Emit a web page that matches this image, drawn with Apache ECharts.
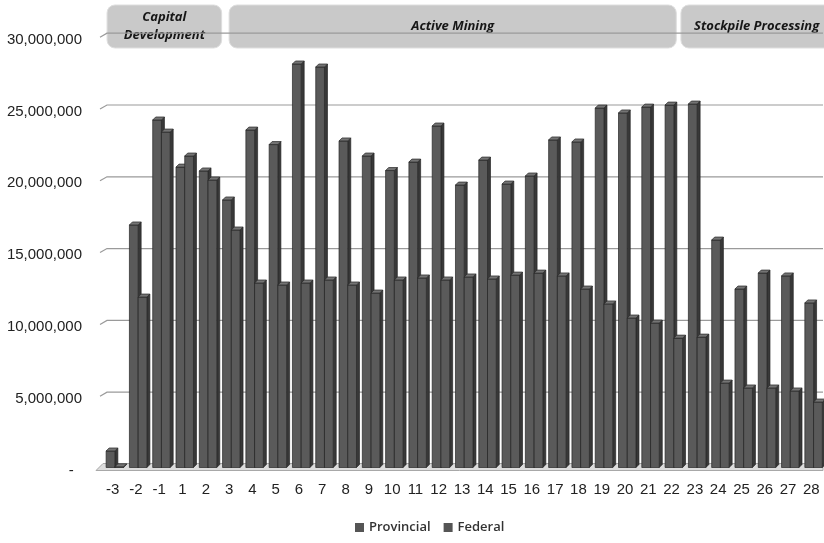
<!DOCTYPE html>
<html>
<head>
<meta charset="utf-8">
<script src="https://cdn.jsdelivr.net/npm/echarts@6/dist/echarts.min.js"></script>
<style>
  html, body { margin: 0; padding: 0; background: #ffffff; }
  #chart { width: 824px; height: 543px; }
</style>
</head>
<body>
<div id="chart"></div>
<script>
// Project years (no year 0) and annual royalty / tax revenue
const years = ['-3', '-2', '-1', '1', '2', '3', '4', '5', '6', '7', '8', '9', '10',
  '11', '12', '13', '14', '15', '16', '17', '18', '19', '20', '21', '22', '23',
  '24', '25', '26', '27', '28'];

const provincial = [1220000, 16960000, 24270000, 20990000, 20720000, 18700000,
  23570000, 22560000, 28170000, 27960000, 22810000, 21760000, 20750000,
  21340000, 23850000, 19740000, 21480000, 19810000, 20370000, 22880000,
  22740000, 25100000, 24760000, 25170000, 25310000, 25380000, 15910000,
  12500000, 13610000, 13410000, 11530000];

const federal = [120000, 11940000, 23430000, 21760000, 20090000, 16610000,
  12920000, 12780000, 12920000, 13130000, 12780000, 12220000, 13130000,
  13270000, 13130000, 13340000, 13200000, 13470000, 13610000, 13410000,
  12500000, 11460000, 10480000, 10130000, 9080000, 9150000, 5950000,
  5610000, 5610000, 5400000, 4630000];

const yTicks = [0, 5000000, 10000000, 15000000, 20000000, 25000000, 30000000];

const phaseLabels = ['Capital\nDevelopment', 'Active Mining', 'Stockpile Processing'];

const chart = echarts.init(document.getElementById('chart'), null, { renderer: 'canvas' });

const BAR_FRONT = '#5a5a5a';
const BAR_SIDE = '#383838';
const BAR_TOP = '#747474';
const BAR_EDGE = '#262626';
const DEPTH = 3;

// Draws one pseudo-3D column (front face, right side face, top face)
function columnRenderer(fromFrac, toFrac) {
  return function (params, api) {
    const idx = api.value(0);
    const v = api.value(1);
    const bw = api.size([1, 0])[0];
    const top = api.coord([idx, v]);
    const base = api.coord([idx, 0]);
    const c = top[0];
    const x0 = c + fromFrac * bw;
    const x1 = c + toFrac * bw;
    const yt = top[1] + 2;
    const yb = base[1] + 1;
    const edge = { stroke: BAR_EDGE, lineWidth: 0.7 };
    return {
      type: 'group',
      children: [
        { type: 'polygon',
          shape: { points: [[x1, yt], [x1 + DEPTH, yt - DEPTH], [x1 + DEPTH, yb - DEPTH], [x1, yb]] },
          style: Object.assign({ fill: BAR_SIDE }, edge) },
        { type: 'rect',
          shape: { x: x0, y: yt, width: x1 - x0, height: Math.max(yb - yt, 0.5) },
          style: Object.assign({ fill: BAR_FRONT }, edge) },
        { type: 'polygon',
          shape: { points: [[x0, yt], [x1, yt], [x1 + DEPTH, yt - DEPTH], [x0 + DEPTH, yt - DEPTH]] },
          style: Object.assign({ fill: BAR_TOP }, edge) }
      ]
    };
  };
}

function formatTick(v) {
  return v === 0 ? '-\u2007' : v.toLocaleString('en-US');
}

// Back-wall gridlines, the floor, and the value labels on the front edge
function wallRenderer(params, api) {
  const cs = params.coordSys;
  const v = api.value(1);
  const y = api.coord([0, v])[1];
  const right = cs.x + cs.width;
  const label = {
    type: 'text',
    x: cs.x - 19,
    y: y + 4,
    style: {
      text: formatTick(v),
      fill: '#222222',
      font: '15px "Liberation Sans"',
      align: 'right',
      verticalAlign: 'middle'
    }
  };
  let line;
  if (v === 0) {
    line = {
      type: 'polygon',
      shape: { points: [[cs.x - 5, y + 4], [cs.x + 2, y - 3], [right, y - 3], [right, y + 4]] },
      style: { fill: '#dcdcdc', stroke: '#a8a8a8', lineWidth: 1 }
    };
  } else {
    line = {
      type: 'polyline',
      shape: { points: [[cs.x - 1, y + 1.5], [cs.x + 6, y - 2.5], [right, y - 2.5]] },
      style: { fill: null, stroke: '#9a9a9a', lineWidth: 1.2 }
    };
  }
  return { type: 'group', children: [line, label] };
}

const option = {
  backgroundColor: '#ffffff',
  animation: false,
  grid: { left: 101, right: 1, top: 35.7, bottom: 76.5, containLabel: false },
  legend: {
    left: 350,
    bottom: 4,
    icon: 'rect',
    itemWidth: 9,
    itemHeight: 9,
    itemGap: 13,
    textStyle: { fontFamily: 'Open Sans', fontSize: 13, fontWeight: 600, color: '#333333' },
    data: ['Provincial', 'Federal']
  },
  xAxis: {
    type: 'category',
    data: years,
    axisLine: { show: false },
    axisTick: { show: false },
    splitLine: { show: false },
    axisLabel: {
      interval: 0,
      margin: 16,
      fontFamily: 'Liberation Sans',
      fontSize: 15,
      color: '#222222'
    }
  },
  yAxis: {
    type: 'value',
    min: 0,
    max: 30000000,
    interval: 5000000,
    axisLine: { show: false },
    axisTick: { show: false },
    splitLine: { show: false },
    axisLabel: { show: false }
  },
  series: [
    {
      name: 'wall',
      type: 'custom',
      silent: true,
      z: 1,
      clip: false,
      renderItem: wallRenderer,
      data: yTicks.map(function (v) { return [0, v]; }),
      encode: { x: 0, y: 1 }
    },
    {
      name: 'Provincial',
      type: 'custom',
      z: 3,
      clip: false,
      itemStyle: { color: '#555555' },
      renderItem: columnRenderer(-0.28, 0.095),
      data: provincial.map(function (v, i) { return [i, v]; }),
      encode: { x: 0, y: 1 }
    },
    {
      name: 'Federal',
      type: 'custom',
      z: 4,
      clip: false,
      itemStyle: { color: '#555555' },
      renderItem: columnRenderer(0.095, 0.47),
      data: federal.map(function (v, i) { return [i, v]; }),
      encode: { x: 0, y: 1 }
    }
  ]
};

chart.setOption(option);

// Phase banners across the top, placed in category units along the x axis
const phaseSpans = [[-0.24, 4.68], [5.0, 24.2], [24.4, 30.9]];
const c0 = chart.convertToPixel({ xAxisIndex: 0 }, 0);
const bw = chart.convertToPixel({ xAxisIndex: 0 }, 1) - c0;
const bannerTop = 5;
const bannerH = 43;
const banners = phaseLabels.map(function (label, k) {
  const left = c0 + phaseSpans[k][0] * bw;
  const right = c0 + phaseSpans[k][1] * bw;
  return {
    type: 'group',
    z: 100,
    children: [
      {
        type: 'rect',
        shape: { x: left, y: bannerTop, width: right - left, height: bannerH, r: 8 },
        style: { fill: '#c9c9c9', stroke: '#dedede', lineWidth: 1 }
      },
      {
        type: 'text',
        x: (left + right) / 2,
        y: bannerTop + bannerH / 2,
        style: {
          text: label,
          fill: '#161616',
          font: 'italic bold 13px "Open Sans"',
          lineHeight: 18,
          align: 'center',
          verticalAlign: 'middle'
        }
      }
    ]
  };
});
chart.setOption({ graphic: banners });
</script>
</body>
</html>
